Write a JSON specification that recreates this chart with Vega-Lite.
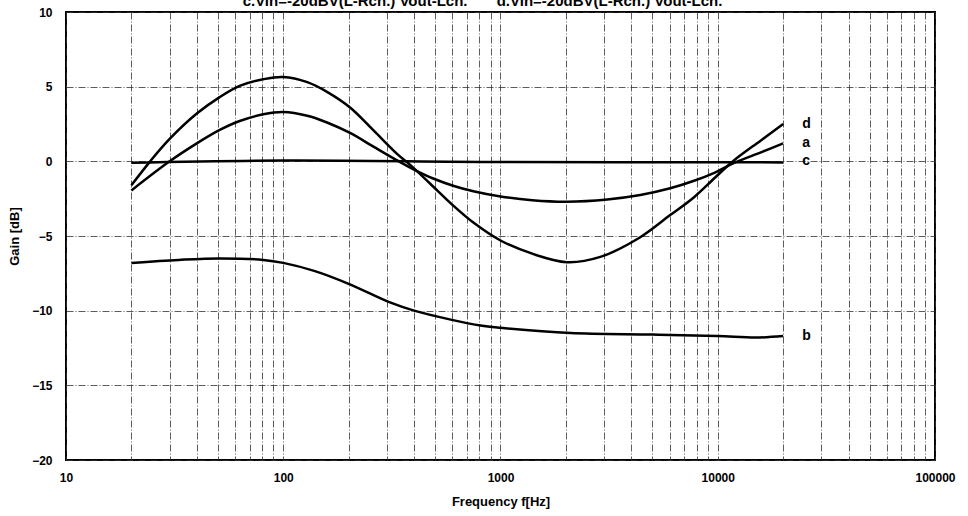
{
  "$schema": "https://vega.github.io/schema/vega-lite/v6.json",
  "width": 869,
  "height": 448,
  "autosize": {"type": "none"},
  "padding": {"left": 66, "top": 12, "right": 33, "bottom": 56},
  "background": "white",
  "title": {
    "text": "c.Vin=-20dBV(L-Rch.) Vout-Lch.\u00a0\u00a0\u00a0\u00a0\u00a0\u00a0\u00a0d.Vin=-20dBV(L-Rch.) Vout-Lch.",
    "anchor": "middle",
    "dx": -18,
    "baseline": "bottom",
    "offset": -18,
    "font": "Liberation Sans",
    "fontSize": 15,
    "fontWeight": "bold",
    "color": "black"
  },
  "config": {
    "view": {"stroke": "black", "strokeWidth": 2},
    "font": "Liberation Sans",
    "axis": {
      "labelFont": "Liberation Sans",
      "labelFontWeight": "bold",
      "labelFontSize": 12,
      "labelColor": "black",
      "titleFont": "Liberation Sans",
      "titleFontWeight": "bold",
      "titleFontSize": 13,
      "titleColor": "black",
      "ticks": false,
      "domain": false,
      "gridColor": "#333",
      "gridDash": [7, 2, 1, 2],
      "gridWidth": 1,
      "gridOpacity": 0.8
    }
  },
  "datasets": {
    "curves": [
      {"series": "a", "f": 20, "gain": -1.95},
      {"series": "a", "f": 30, "gain": 0.0},
      {"series": "a", "f": 40, "gain": 1.2},
      {"series": "a", "f": 51, "gain": 2.1},
      {"series": "a", "f": 63, "gain": 2.7},
      {"series": "a", "f": 81, "gain": 3.15},
      {"series": "a", "f": 100, "gain": 3.3},
      {"series": "a", "f": 129, "gain": 3.05},
      {"series": "a", "f": 159, "gain": 2.6},
      {"series": "a", "f": 203, "gain": 1.9},
      {"series": "a", "f": 259, "gain": 1.0},
      {"series": "a", "f": 322, "gain": 0.2},
      {"series": "a", "f": 400, "gain": -0.55},
      {"series": "a", "f": 490, "gain": -1.15},
      {"series": "a", "f": 610, "gain": -1.65},
      {"series": "a", "f": 750, "gain": -2.0},
      {"series": "a", "f": 1000, "gain": -2.35},
      {"series": "a", "f": 1400, "gain": -2.6},
      {"series": "a", "f": 2020, "gain": -2.7},
      {"series": "a", "f": 3100, "gain": -2.55},
      {"series": "a", "f": 4400, "gain": -2.25},
      {"series": "a", "f": 6040, "gain": -1.8},
      {"series": "a", "f": 7780, "gain": -1.3},
      {"series": "a", "f": 9700, "gain": -0.75},
      {"series": "a", "f": 11900, "gain": -0.1},
      {"series": "a", "f": 15800, "gain": 0.6},
      {"series": "a", "f": 20000, "gain": 1.2},
      {"series": "d", "f": 20, "gain": -1.6},
      {"series": "d", "f": 24.4, "gain": 0.0},
      {"series": "d", "f": 30, "gain": 1.5},
      {"series": "d", "f": 40, "gain": 3.2},
      {"series": "d", "f": 51, "gain": 4.3},
      {"series": "d", "f": 63, "gain": 5.05},
      {"series": "d", "f": 81, "gain": 5.5},
      {"series": "d", "f": 100, "gain": 5.65},
      {"series": "d", "f": 129, "gain": 5.3},
      {"series": "d", "f": 159, "gain": 4.65},
      {"series": "d", "f": 203, "gain": 3.6},
      {"series": "d", "f": 259, "gain": 2.1},
      {"series": "d", "f": 334, "gain": 0.5},
      {"series": "d", "f": 385, "gain": -0.25},
      {"series": "d", "f": 475, "gain": -1.5},
      {"series": "d", "f": 610, "gain": -3.0},
      {"series": "d", "f": 750, "gain": -4.1},
      {"series": "d", "f": 1000, "gain": -5.3},
      {"series": "d", "f": 1410, "gain": -6.2},
      {"series": "d", "f": 2020, "gain": -6.75},
      {"series": "d", "f": 2880, "gain": -6.4},
      {"series": "d", "f": 4380, "gain": -5.1},
      {"series": "d", "f": 6040, "gain": -3.6},
      {"series": "d", "f": 7780, "gain": -2.4},
      {"series": "d", "f": 9700, "gain": -1.1},
      {"series": "d", "f": 11900, "gain": 0.07},
      {"series": "d", "f": 15800, "gain": 1.4},
      {"series": "d", "f": 20000, "gain": 2.5},
      {"series": "c", "f": 20, "gain": -0.1},
      {"series": "c", "f": 100, "gain": 0.05},
      {"series": "c", "f": 1000, "gain": -0.05},
      {"series": "c", "f": 20000, "gain": -0.07},
      {"series": "b", "f": 20, "gain": -6.8},
      {"series": "b", "f": 33, "gain": -6.6},
      {"series": "b", "f": 51, "gain": -6.5},
      {"series": "b", "f": 81, "gain": -6.6},
      {"series": "b", "f": 100, "gain": -6.8},
      {"series": "b", "f": 140, "gain": -7.35},
      {"series": "b", "f": 200, "gain": -8.2},
      {"series": "b", "f": 310, "gain": -9.45},
      {"series": "b", "f": 400, "gain": -10.0},
      {"series": "b", "f": 590, "gain": -10.6},
      {"series": "b", "f": 810, "gain": -11.0},
      {"series": "b", "f": 1000, "gain": -11.15},
      {"series": "b", "f": 2100, "gain": -11.5},
      {"series": "b", "f": 5000, "gain": -11.6},
      {"series": "b", "f": 10000, "gain": -11.7},
      {"series": "b", "f": 15000, "gain": -11.8},
      {"series": "b", "f": 20000, "gain": -11.7}
    ],
    "labels": [
      {"series": "d", "f": 24500, "gain": 2.5},
      {"series": "a", "f": 24500, "gain": 1.2},
      {"series": "c", "f": 24500, "gain": 0.0},
      {"series": "b", "f": 24500, "gain": -11.7}
    ]
  },
  "layer": [
    {
      "data": {"name": "curves"},
      "mark": {"type": "line", "color": "black", "strokeWidth": 2.5, "interpolate": "catmull-rom", "clip": true},
      "encoding": {
        "x": {
          "field": "f",
          "type": "quantitative",
          "scale": {"type": "log", "domain": [10, 100000], "nice": false},
          "axis": {
            "title": "Frequency f[Hz]",
            "titlePadding": 12,
            "labelPadding": 12,
            "format": "d",
            "values": [10, 20, 30, 40, 50, 60, 70, 80, 90, 100, 200, 300, 400, 500, 600, 700, 800, 900, 1000, 2000, 3000, 4000, 5000, 6000, 7000, 8000, 9000, 10000, 20000, 30000, 40000, 50000, 60000, 70000, 80000, 90000, 100000],
            "labelExpr": "indexof(['10','100','1000','10000','100000'], datum.label) >= 0 ? datum.label : ''",
            "labelOverlap": false,
            "labelFlush": false
          }
        },
        "y": {
          "field": "gain",
          "type": "quantitative",
          "scale": {"domain": [-20, 10], "nice": false},
          "axis": {
            "title": "Gain [dB]",
            "values": [-20, -15, -10, -5, 0, 5, 10],
            "labelPadding": 14,
            "titlePadding": 10
          }
        },
        "detail": {"field": "series", "type": "nominal"}
      }
    },
    {
      "data": {"name": "labels"},
      "mark": {"type": "text", "align": "left", "baseline": "middle", "font": "Liberation Sans", "fontSize": 14, "fontWeight": "bold", "color": "black"},
      "encoding": {
        "x": {"field": "f", "type": "quantitative"},
        "y": {"field": "gain", "type": "quantitative"},
        "text": {"field": "series", "type": "nominal"}
      }
    }
  ]
}
